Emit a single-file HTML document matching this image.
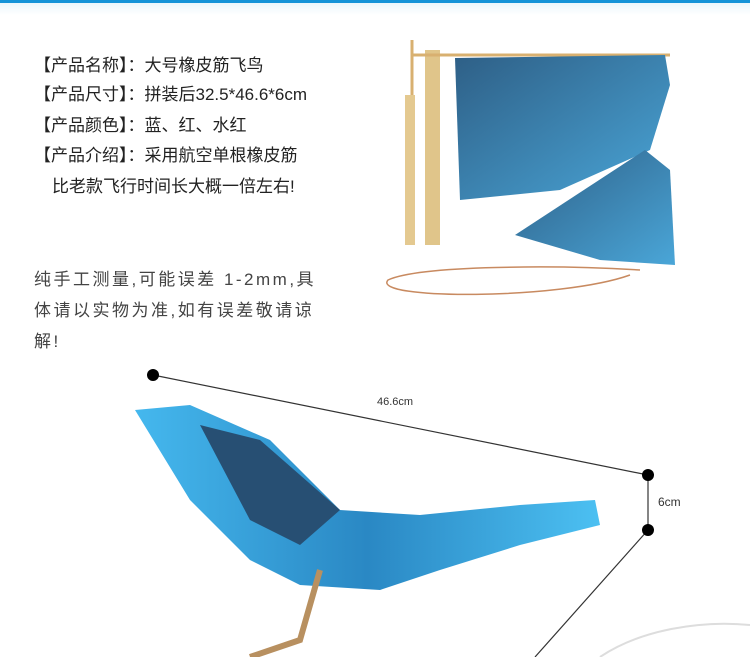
<!DOCTYPE html>
<html><head><meta charset="utf-8"><style>
body{margin:0;width:750px;height:657px;overflow:hidden;background:#fff;font-family:"Liberation Sans","Noto Sans CJK SC",sans-serif;}
.t{position:absolute;font-size:17px;color:#222;white-space:nowrap}
.s{position:absolute;font-size:17px;color:#444;line-height:31px;white-space:nowrap;letter-spacing:2.5px}
</style></head><body>
<div style="position:absolute;left:0;top:0;width:750px;height:3px;background:#1493d8"></div>
<div style="position:absolute;left:0;top:3px;width:750px;height:12px;background:linear-gradient(#eaf6fc,#fff)"></div>
<div class="t" style="left:34px;top:51px">【产品名称】：大号橡皮筋飞鸟</div>
<div class="t" style="left:34px;top:80px">【产品尺寸】：拼装后32.5*46.6*6cm</div>
<div class="t" style="left:34px;top:111px">【产品颜色】：蓝、红、水红</div>
<div class="t" style="left:34px;top:141px">【产品介绍】：采用航空单根橡皮筋</div>
<div class="t" style="left:52px;top:172px">比老款飞行时间长大概一倍左右!</div>
<div class="s" style="left:34px;top:264px">纯手工测量,可能误差 1-2mm,具<br>体请以实物为准,如有误差敬请谅<br>解!</div>
<svg width="750" height="657" style="position:absolute;left:0;top:0">
<defs><linearGradient id="g" x1="0" y1="0" x2="1" y2="1"><stop offset="0" stop-color="#2e5f86"/><stop offset="1" stop-color="#4aa6d8"/></linearGradient>
<linearGradient id="b" x1="0" y1="0" x2="1" y2="0"><stop offset="0" stop-color="#45b8ee"/><stop offset="0.5" stop-color="#2a88c4"/><stop offset="1" stop-color="#4cc0f2"/></linearGradient></defs>
<line x1="412" y1="40" x2="412" y2="95" stroke="#d8b070" stroke-width="3"/>
<rect x="425" y="50" width="15" height="195" fill="#e0c58a"/>
<rect x="405" y="95" width="10" height="150" fill="#e4c990"/>
<line x1="412" y1="55" x2="670" y2="55" stroke="#d8b070" stroke-width="3"/>
<polygon points="455,58 665,55 670,85 650,150 560,190 460,200" fill="url(#g)"/>
<polygon points="515,235 645,150 670,170 675,265 600,260" fill="url(#g)"/>
<path d="M640,270 C560,265 420,265 388,280 C370,300 560,300 630,275" fill="none" stroke="#c88a60" stroke-width="1.5"/>
<line x1="153" y1="375" x2="648" y2="475" stroke="#333" stroke-width="1.2"/>
<line x1="648" y1="475" x2="648" y2="530" stroke="#333" stroke-width="1.2"/>
<line x1="648" y1="530" x2="535" y2="657" stroke="#333" stroke-width="1.2"/>
<circle cx="153" cy="375" r="6" fill="#000"/><circle cx="648" cy="475" r="6" fill="#000"/><circle cx="648" cy="530" r="6" fill="#000"/>
<text x="377" y="405" font-size="11" fill="#333" font-family="Liberation Sans">46.6cm</text>
<text x="658" y="506" font-size="12" fill="#333" font-family="Liberation Sans">6cm</text>
<polygon points="135,410 190,405 270,440 340,510 420,515 520,505 595,500 600,525 520,545 440,570 380,590 300,585 250,560 190,500" fill="url(#b)"/>
<polygon points="200,425 260,440 340,510 300,545 250,520" fill="#274f73"/>
<path d="M320,570 L300,640 L250,657" stroke="#b89060" stroke-width="6" fill="none"/>
<path d="M600,657 C640,630 700,620 750,625" stroke="#ddd" stroke-width="2" fill="none"/>
</svg>
</body></html>
